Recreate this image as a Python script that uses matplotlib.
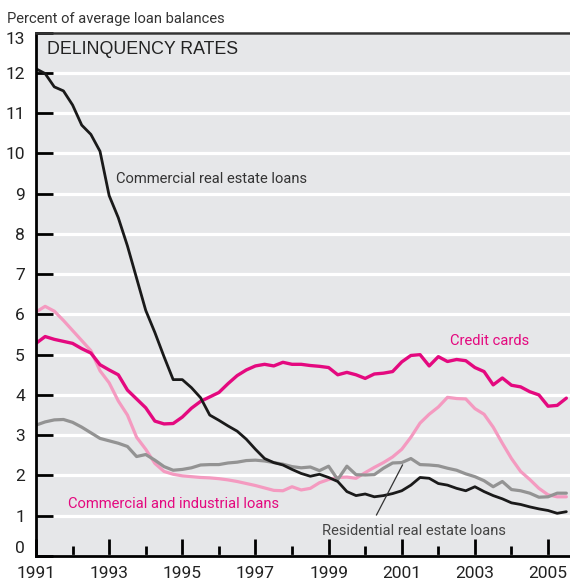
import matplotlib

matplotlib.use("Agg")
import matplotlib.pyplot as plt
import numpy as np

# quarterly observations, 1991:Q1 through 2005:Q3
start_year = 1991.0
commercial_real_estate = [
    12.10, 11.98, 11.65, 11.55, 11.20, 10.70, 10.47, 10.05, 8.95, 8.40,
    7.70, 6.90, 6.10, 5.55, 4.95, 4.38, 4.38, 4.18, 3.93, 3.50,
    3.37, 3.23, 3.10, 2.90, 2.65, 2.42, 2.32, 2.26, 2.15, 2.05,
    1.98, 2.03, 1.95, 1.85, 1.60, 1.50, 1.54, 1.47, 1.50, 1.55,
    1.62, 1.76, 1.95, 1.93, 1.80, 1.76, 1.68, 1.62, 1.72, 1.60,
    1.50, 1.42, 1.32, 1.28, 1.22, 1.17, 1.13, 1.06, 1.10,
]
credit_cards = [
    5.28, 5.45, 5.38, 5.33, 5.28, 5.15, 5.04, 4.75, 4.62, 4.50,
    4.12, 3.90, 3.68, 3.35, 3.28, 3.29, 3.45, 3.67, 3.84, 3.95,
    4.06, 4.28, 4.48, 4.62, 4.72, 4.76, 4.72, 4.81, 4.76, 4.76,
    4.73, 4.71, 4.68, 4.50, 4.56, 4.50, 4.41, 4.52, 4.54, 4.58,
    4.82, 4.98, 5.00, 4.72, 4.95, 4.83, 4.88, 4.85, 4.68, 4.58,
    4.25, 4.42, 4.24, 4.20, 4.08, 4.00, 3.72, 3.74, 3.92,
]
commercial_industrial = [
    6.06, 6.20, 6.08, 5.85, 5.60, 5.35, 5.10, 4.60, 4.30, 3.85,
    3.50, 2.95, 2.65, 2.30, 2.10, 2.03, 1.99, 1.97, 1.95, 1.94,
    1.92, 1.89, 1.85, 1.80, 1.75, 1.69, 1.63, 1.62, 1.72, 1.64,
    1.68, 1.82, 1.90, 1.95, 1.96, 1.93, 2.07, 2.20, 2.32, 2.46,
    2.65, 2.95, 3.30, 3.52, 3.70, 3.94, 3.91, 3.90, 3.66, 3.52,
    3.20, 2.80, 2.42, 2.10, 1.90, 1.68, 1.52, 1.47, 1.47,
]
residential_real_estate = [
    3.25, 3.33, 3.38, 3.39, 3.32, 3.20, 3.06, 2.92, 2.86, 2.80,
    2.72, 2.47, 2.52, 2.38, 2.22, 2.13, 2.15, 2.19, 2.26, 2.27,
    2.27, 2.31, 2.33, 2.37, 2.38, 2.36, 2.32, 2.28, 2.22, 2.19,
    2.21, 2.12, 2.23, 1.90, 2.23, 2.02, 2.01, 2.02, 2.18, 2.31,
    2.32, 2.42, 2.27, 2.26, 2.24, 2.18, 2.13, 2.04, 1.97, 1.87,
    1.72, 1.85, 1.65, 1.62, 1.56, 1.46, 1.47, 1.56, 1.56,
]

major_years = list(range(1991, 2006, 2))
minor_years = list(range(1992, 2006, 2))
y_values = list(range(0, 14))

MAGENTA = "#e4097f"
PINK = "#f49ac0"
GRAY = "#939393"
BLACK = "#1a1a1a"
PANEL = "#e6e7e9"
NARROW = ["Roboto", "DejaVu Sans"]
REGULAR = ["Liberation Sans", "DejaVu Sans"]

quarters = start_year + 0.25 * np.arange(len(commercial_real_estate))

fig = plt.figure(figsize=(5.70, 5.84), dpi=100)
ax = fig.add_axes([36 / 570, 1 - 556 / 584, 534 / 570, 523.5 / 584])
ax.set_facecolor(PANEL)

line_style = dict(solid_capstyle="round", solid_joinstyle="round")
ax.plot(quarters, commercial_industrial, color=PINK, lw=2.3, **line_style)
ax.plot(quarters, residential_real_estate, color=GRAY, lw=2.3, **line_style)
ax.plot(quarters, credit_cards, color=MAGENTA, lw=2.4, **line_style)
ax.plot(quarters, commercial_real_estate, color=BLACK, lw=2.0, **line_style)

ax.set_xlim(1991, 2005.6)
ax.set_ylim(0, 13)

ax.set_yticks(y_values)
ax.set_yticklabels([str(v) for v in y_values], family=NARROW, fontsize=12.5, color="#222222")
ax.set_xticks(major_years)
ax.set_xticklabels([str(y) for y in major_years], family=NARROW, fontsize=12.5, color="#222222")
ax.set_xticks(minor_years, minor=True)

ax.tick_params(axis="y", direction="in", length=12, width=2, color="black", pad=8)
ax.tick_params(axis="x", which="major", direction="in", length=12, width=2, pad=7)
ax.tick_params(axis="x", which="minor", direction="in", length=7, width=2)

labels = ax.get_yticklabels()
labels[0].set_va("bottom")
labels[-1].set_va("top")

ax.grid(axis="y", color="white", lw=2.3)
ax.set_axisbelow(True)

for side in ("left", "bottom"):
    ax.spines[side].set_linewidth(2)
    ax.spines[side].set_color("black")
ax.spines["top"].set_linewidth(1.8)
ax.spines["top"].set_color("#333333")
ax.spines["right"].set_visible(False)

ax.text(10.7 / 534, 0.959, "DELINQUENCY RATES", transform=ax.transAxes,
        family=REGULAR, fontsize=12.8, color="#222222", va="baseline")

ax.text(1993.19, 9.26, "Commercial real estate loans", family=NARROW,
        fontsize=10.6, color="#333333", va="baseline")
ax.text(2002.31, 5.25, "Credit cards", family=NARROW,
        fontsize=10.6, color=MAGENTA, va="baseline")
ax.text(1991.88, 1.19, "Commercial and industrial loans", family=NARROW,
        fontsize=10.6, color=MAGENTA, va="baseline")
ax.text(1998.83, 0.52, "Residential real estate loans", family=NARROW,
        fontsize=10.6, color="#444444", va="baseline")
ax.plot([2000.31, 2001.02], [1.02, 2.26], color="#333333", lw=0.9)

fig.text(7.3 / 570, 1 - 23.3 / 584, "Percent of average loan balances",
         family=NARROW, fontsize=10.6, color="#333333", va="baseline")

fig.savefig("out.png", dpi=100, facecolor="white")
